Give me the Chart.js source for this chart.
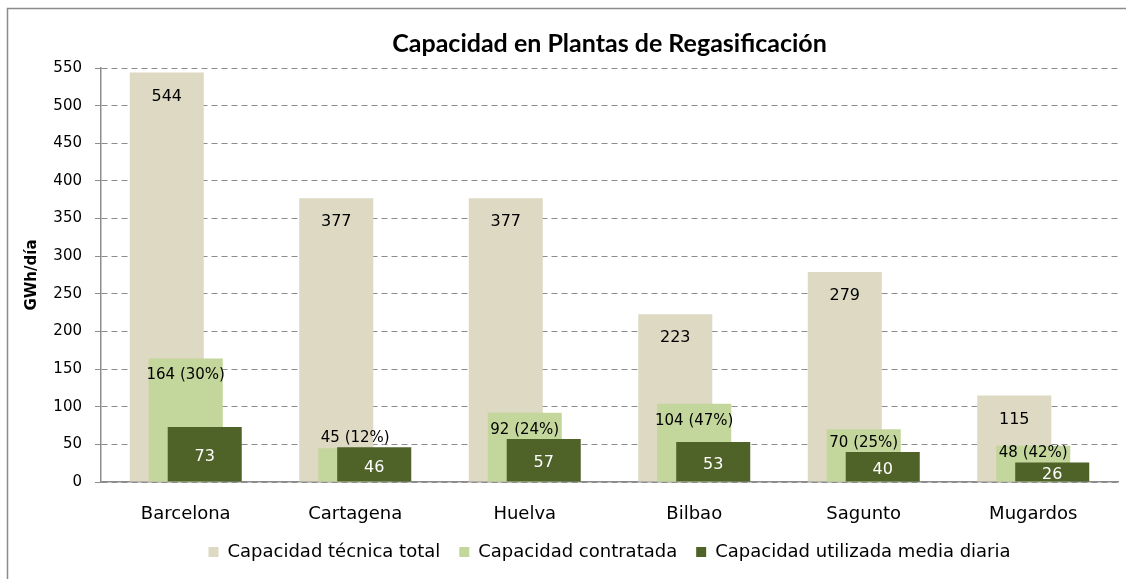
<!DOCTYPE html>
<html>
<head>
<meta charset="utf-8">
<script src="https://cdn.jsdelivr.net/npm/chart.js@4"></script>
<style>
  html, body { margin: 0; padding: 0; background: #fff; }
  canvas { display: block; }
</style>
</head>
<body>
<canvas id="regasChart" width="1126" height="579"></canvas>
<script>
// datos
const plantas = ['Barcelona', 'Cartagena', 'Huelva', 'Bilbao', 'Sagunto', 'Mugardos'];
const capTecnica = [544, 377, 377, 223, 279, 115];
const capContratada = [164, 45, 92, 104, 70, 48];
const pctContratada = [30, 12, 24, 47, 25, 42];
const capUtilizada = [73, 46, 57, 53, 40, 26];
const yMin = 0, yMax = 550, yStep = 50;

const fontFamily = '"DejaVu Sans", sans-serif';

// fondo blanco y marco exterior
const frame = {
    id: 'frame',
    beforeDraw(chart) {
        const ctx = chart.ctx;
        ctx.save();
        ctx.fillStyle = '#fff';
        ctx.fillRect(0, 0, chart.width, chart.height);
        ctx.strokeStyle = '#8c8c8c';
        ctx.lineWidth = 1.5;
        ctx.strokeRect(7.5, 8.5, chart.width + 20, chart.height + 20);
        ctx.restore();
    }
};

// Chart.js pinta el dataset 0 encima; aquí se pinta en orden 0,1,2
// para que la barra oscura (derecha) quede delante, como en Excel
const drawOrder = {
    id: 'drawOrder',
    beforeDatasetsDraw(chart) {
        chart.data.datasets.forEach((ds, i) => {
            if (chart.isDatasetVisible(i)) chart.getDatasetMeta(i).controller.draw();
        });
        return false;
    }
};

// etiquetas de valores sobre las barras
const barLabels = {
    id: 'barLabels',
    afterDraw(chart) {
        const ctx = chart.ctx;
        const m0 = chart.getDatasetMeta(0);
        const m1 = chart.getDatasetMeta(1);
        const m2 = chart.getDatasetMeta(2);
        ctx.save();
        ctx.font = '16px ' + fontFamily;
        ctx.textAlign = 'center';
        ctx.textBaseline = 'middle';

        ctx.fillStyle = '#000';
        m0.data.forEach((bar, i) => {
            ctx.fillText(String(capTecnica[i]), bar.x, bar.y + 24);
        });

        ctx.font = '15px ' + fontFamily;
        m1.data.forEach((bar, i) => {
            let y = bar.y + 17;
            const topDark = m2.data[i].y;
            if (y + 8 > topDark - 1) y = topDark - 9; // que no pise la barra oscura
            ctx.fillText(capContratada[i] + ' (' + pctContratada[i] + '%)', bar.x, y);
        });

        ctx.font = '16px ' + fontFamily;
        ctx.fillStyle = '#fff';
        m2.data.forEach((bar, i) => {
            ctx.fillText(String(capUtilizada[i]), bar.x, (bar.y + bar.base) / 2 + 3);
        });
        ctx.restore();
    }
};

const ctx = document.getElementById('regasChart').getContext('2d');
new Chart(ctx, {
    type: 'bar',
    data: {
        labels: plantas,
        datasets: [
            {
                label: 'Capacidad técnica total',
                data: capTecnica,
                backgroundColor: '#ddd9c3'
            },
            {
                label: 'Capacidad contratada',
                data: capContratada,
                backgroundColor: '#c3d69b'
            },
            {
                label: 'Capacidad utilizada media diaria',
                data: capUtilizada,
                backgroundColor: '#4f6228'
            }
        ]
    },
    options: {
        responsive: false,
        animation: false,
        // barras solapadas como en Excel
        categoryPercentage: 0.336,
        barPercentage: 3.9,
        layout: {
            padding: { left: 0, right: 8, top: 0, bottom: 8 }
        },
        plugins: {
            title: {
                display: true,
                fullSize: false,
                text: 'Capacidad en Plantas de Regasificación',
                color: '#000',
                font: { family: 'Lato', size: 25, weight: 'bold' },
                padding: { top: 29, bottom: 9 }
            },
            legend: {
                position: 'bottom',
                fullSize: false,
                labels: {
                    boxWidth: 10,
                    boxHeight: 10,
                    padding: 19,
                    color: '#000',
                    font: { family: fontFamily, size: 18 }
                }
            },
            tooltip: { enabled: false }
        },
        scales: {
            x: {
                grid: { display: false },
                border: { display: true, color: '#8c8c8c', width: 1.5 },
                ticks: {
                    color: '#000',
                    padding: 14,
                    font: { family: fontFamily, size: 18 }
                },
                afterFit(scale) { scale.height = 42; }
            },
            y: {
                min: yMin,
                max: yMax,
                ticks: {
                    stepSize: yStep,
                    color: '#000',
                    padding: 13,
                    font: { family: fontFamily, size: 15 }
                },
                grid: {
                    color: '#8c8c8c',
                    tickLength: 6,
                    tickBorderDash: []
                },
                border: { display: true, color: '#8c8c8c', dash: [6, 4], width: 1.5 },
                title: {
                    display: true,
                    text: 'GWh/día',
                    color: '#000',
                    font: { family: fontFamily, size: 15, weight: 'bold' },
                    padding: { top: 23, bottom: 0 }
                },
                afterFit(scale) { scale.width = 101; }
            }
        }
    },
    plugins: [frame, drawOrder, barLabels]
});
</script>
</body>
</html>
